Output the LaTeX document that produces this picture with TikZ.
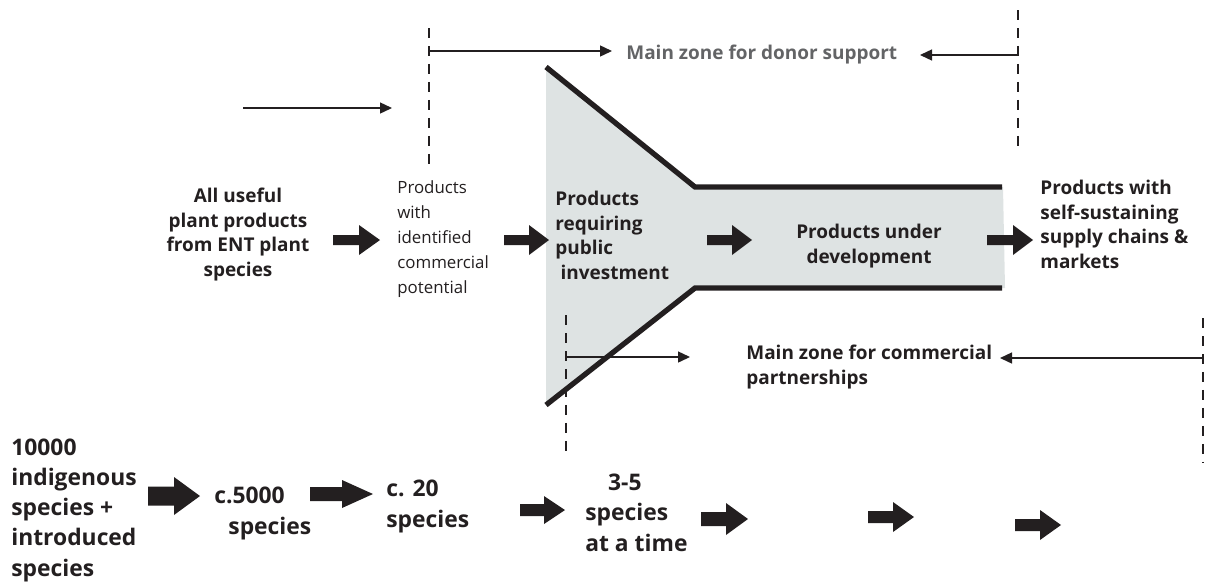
\documentclass[tikz,border=0pt]{standalone}
\usepackage{fontspec}
\setmainfont{Open Sans}
\usetikzlibrary{arrows.meta}
\definecolor{funnel}{HTML}{DEE3E3}
\definecolor{ink}{HTML}{231F20}
\definecolor{donor}{HTML}{636466}
\tikzset{
  lab/.style={text=ink, font=\bfseries\fontsize{10.8}{13.9}\selectfont, inner sep=0pt, align=left},
  labc/.style={lab, align=center},
  labr/.style={text=ink, font=\fontsize{9.6}{14.1}\selectfont, inner sep=0pt, align=left},
  labbig/.style={text=ink, font=\bfseries\fontsize{13}{17.2}\selectfont, inner sep=0pt, align=left},
  zone/.style={draw=ink, line width=0.8pt, -{Triangle[length=0.24cm,width=0.22cm]}},
  guide/.style={draw=ink, line width=0.6pt, dash pattern=on 0.2cm off 0.16cm},
  wall/.style={draw=ink, line width=3pt},
  pics/fatarrow/.style n args={4}{code={%
    \fill[ink] (0,-#2) -- (#1-#3,-#2) -- (#1-#3,-#4) -- (#1,0)
      -- (#1-#3,#4) -- (#1-#3,#2) -- (0,#2) -- cycle;}}
}
\begin{document}
\begin{tikzpicture}[x=0.02cm, y=-0.02cm]
  \useasboundingbox (0,0) rectangle (1213,582);

  % the funnel
  \fill[funnel] (546,67) -- (695,187) -- (1003,187) -- (1005,288)
    -- (695,288) -- (546,405) -- cycle;
  \draw[wall] (546,67) -- (695,187) -- (1002,187);
  \draw[wall] (546,405) -- (695,288) -- (1002,288);

  % zone limits
  \draw[guide] (429,28) -- (429,168);
  \draw[guide] (1018,10) -- (1018,150);
  \draw[guide] (566,315) -- (566,458);
  \draw[guide] (1203,318) -- (1203,462);

  \coordinate (donorL) at (429,51);
  \coordinate (donorLtip) at (612,51);
  \coordinate (donorR) at (1018,55);
  \coordinate (donorRtip) at (920,55);
  \coordinate (commL) at (566,357);
  \coordinate (commLtip) at (690,357);
  \coordinate (commR) at (1203,358);
  \coordinate (commRtip) at (1000,358);
  \coordinate (lone) at (243,108);
  \coordinate (lonetip) at (392,108);

  \draw[zone] (donorL) -- (donorLtip);
  \draw[zone] (donorR) -- (donorRtip);
  \draw[zone] (commL) -- (commLtip);
  \draw[zone] (commR) -- (commRtip);
  \draw[zone] (lone) -- (lonetip);

  \node[lab, text=donor, anchor=base west] (donorzone) at (626,59) {Main zone for donor support};
  \node[lab, anchor=base west] (commzone) at (746,384) {Main zone for commercial\\partnerships};

  % product stages
  \node[labc, anchor=base] (allprod) at (238,276) {All useful\\ plant products\\from ENT plant\\species};
  \node[labr, anchor=base west] (ident) at (397,293) {Products\\with\\identified\\commercial\\potential};
  \node[lab, anchor=base west] (public) at (555,279) {Products\\requiring\\public\\\hspace{3pt}investment};
  \node[labc, anchor=base] (devel) at (869,263) {Products under\\development};
  \node[lab, anchor=base west] (selfsus) at (1040,268) {Products with\\self-sustaining\\supply chains \&\\markets};

  \pic at (333,240) {fatarrow={47}{5}{21}{15}};
  \pic at (504,240) {fatarrow={45}{5}{20}{15}};
  \pic at (707,240) {fatarrow={45}{5}{20}{15}};
  \pic at (987,240) {fatarrow={46}{5}{20}{15}};

  % species counts
  \node[labbig, anchor=base west] (all10k) at (11,576) {10000\\indigenous\\species +\\introduced\\species};
  \node[labbig, anchor=base west] (c5000) at (214,534) {c.5000\\\hspace{8pt}species};
  \node[labbig, anchor=base west] (c20) at (386,527) {c. 20\\species};
  \node[labbig, anchor=base west] (few) at (585,551) {\hspace{13pt}3-5\\species\\at a time};

  \pic at (148,496) {fatarrow={52}{9.5}{26}{19}};
  \pic at (310,494) {fatarrow={63}{7}{31}{14}};
  \pic at (520,510) {fatarrow={45}{6}{21}{14}};
  \pic at (701,519) {fatarrow={47}{7}{22}{16}};
  \pic at (868,517) {fatarrow={46}{6}{21}{15}};
  \pic at (1015,525) {fatarrow={46}{6}{21}{15}};
\end{tikzpicture}
\end{document}
